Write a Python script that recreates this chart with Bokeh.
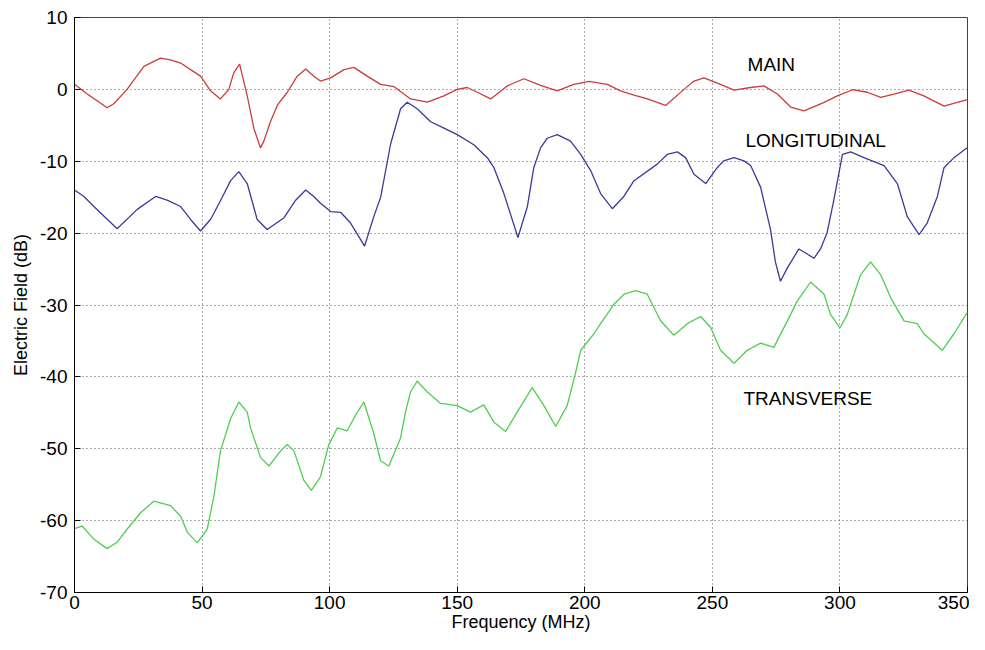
from bokeh.plotting import figure
from bokeh.models import FixedTicker, Range1d, PrintfTickFormatter
from bokeh.core.properties import value
from bokeh.embed import file_html
from bokeh.resources import INLINE

# ---- data ----
main_x = [0, 5, 12.8, 15.4, 20.6, 27.2, 33.7, 37.6, 41.6, 45.5, 49.4, 53.3, 57.2, 60.5, 62.4, 64.7,
          67.7, 70.3, 71.6, 72.9, 74.2, 76.8, 79.5, 83.4, 87.3, 90.6, 93.8, 96.4, 100.4, 105.6,
          109.5, 114.7, 120, 125.2, 131.7, 138.3, 144.8, 150, 153.9, 157.9, 163.1, 169.6, 176.1,
          182.7, 189.2, 195.7, 201.7, 208.8, 214, 219.3, 224.5, 231.7, 238.9, 242.8, 246.7, 253.2,
          258.5, 265, 270.2, 275.5, 280.7, 285.9, 293.8, 299, 305, 310.7, 316, 321.2, 327, 332.9,
          340.8, 346, 350]
main_y = [0.7, -0.65, -2.56, -2.0, 0.0, 3.2, 4.34, 4.1, 3.66, 2.75, 1.84, -0.2, -1.33, 0.0, 2.3, 3.52,
          -0.9, -5.4, -6.8, -8.14, -7.2, -4.5, -2.2, -0.4, 1.84, 2.84, 1.84, 1.16, 1.6, 2.75,
          3.06, 1.84, 0.7, 0.39, -1.33, -1.78, -0.9, 0.0, 0.26, -0.4, -1.33, 0.48, 1.48,
          0.57, -0.2, 0.7, 1.12, 0.7, -0.2, -0.8, -1.33, -2.24, 0.0, 1.16, 1.6, 0.7,
          -0.1, 0.26, 0.48, -0.65, -2.46, -3.0, -1.8, -0.9, -0.05, -0.4, -1.1, -0.65, -0.1, -0.9,
          -2.33, -1.8, -1.43]

long_x = [0, 3.7, 7.6, 16.7, 24.6, 31.8, 36.3, 41.6, 45.5, 49.4, 53.5, 57.2, 61.2, 64.4, 67.7, 71.6,
          75.5, 82, 86.5, 90.6, 93.8, 96.4, 100.4, 104.3, 108.2, 113.7, 117.3, 120, 123.9, 127.8,
          130.4, 134.3, 139.6, 144.8, 150, 156.5, 161.8, 164.4, 168.3, 173.8, 177.5, 180, 182.7,
          185.3, 189.2, 194.4, 198.4, 202.3, 206.2, 210.8, 215.3, 219.3, 228.4, 232.3, 236.3,
          239.5, 242.8, 247.4, 251.9, 254.4, 258.5, 262.4, 265, 268.9, 272.8, 274.7, 276.7, 279.3,
          283.9, 287.2, 289.8, 292.4, 295, 297.6, 301, 304.2, 309.4, 317.3, 322.5, 326.4, 331,
          334.2, 338.2, 340.8, 344.7, 350]
long_y = [-14.0, -14.9, -16.3, -19.4, -16.7, -14.9, -15.4, -16.3, -18.1, -19.7, -18.0, -15.5, -12.7,
          -11.44, -13.1, -18.1, -19.5, -17.9, -15.5, -14.0, -14.9, -15.85, -17.0, -17.1, -18.6,
          -21.8, -17.7, -15.0, -7.6, -2.7, -1.78, -2.7, -4.5, -5.4, -6.3, -7.7, -9.5, -10.9,
          -14.5, -20.6, -16.3, -10.9, -8.1, -6.8, -6.3, -7.2, -9.05, -11.3, -14.5, -16.6, -14.9,
          -12.7, -10.4, -9.05, -8.7, -9.5, -11.8, -13.1, -10.9, -9.95, -9.5, -9.95, -10.6, -13.6,
          -19.5, -24.0, -26.7, -24.9, -22.2, -22.9, -23.5, -22.2, -19.9, -15.4, -9.05, -8.7, -9.5,
          -10.6, -13.1, -17.7, -20.2, -18.6, -14.9, -10.9, -9.5, -8.1]

trans_x = [0, 3, 7.6, 12.8, 16.7, 20.6, 25.9, 31.1, 37.6, 41.6, 44.2, 48.1, 52, 54.6, 57.2, 61.2,
           64.4, 67.7, 69, 72.9, 76.2, 80.8, 83.4, 86, 89.9, 92.8, 96.4, 99.7, 103, 106.9, 110.2,
           113.4, 117, 120, 123.2, 127.8, 129.7, 131.7, 134.3, 138.3, 143.5, 150, 155.2, 160.4,
           164.4, 169, 173.5, 179.4, 184, 188.6, 193.1, 196.4, 198.4, 203.6, 206.2, 211.4, 215.4,
           219.9, 224.5, 229.7, 234.9, 240.2, 245.4, 249.3, 253.2, 258.5, 263.7, 268.9, 274.1,
           280.7, 283.2, 288.5, 293.8, 296.3, 300, 302.9, 305.5, 308.1, 312, 316, 319.9, 325.1,
           330.3, 332.9, 340.1, 344.7, 350]
trans_y = [-61.1, -60.75, -62.6, -63.9, -63.0, -61.2, -58.9, -57.3, -57.9, -59.4, -61.6, -63.1, -61.2,
           -56.7, -50.3, -45.8, -43.5, -44.9, -47.1, -51.2, -52.4, -50.3, -49.4, -50.3, -54.4,
           -55.8, -53.9, -49.4, -47.1, -47.5, -45.3, -43.5, -47.5, -51.7, -52.4, -48.5, -44.9,
           -42.1, -40.6, -42.1, -43.7, -44.0, -44.9, -43.9, -46.3, -47.6, -44.9, -41.5, -44.0,
           -46.9, -44.0, -39.4, -36.3, -34.0, -32.6, -29.9, -28.5, -28.0, -28.5, -32.2, -34.2,
           -32.6, -31.6, -33.1, -36.3, -38.1, -36.3, -35.3, -35.9, -31.3, -29.5, -26.8, -28.5,
           -31.3, -33.2, -31.3, -28.5, -25.8, -24.0, -25.8, -29.0, -32.2, -32.6, -34.0, -36.3,
           -34.0, -31.0]

labels = ["MAIN", "LONGITUDINAL", "TRANSVERSE"]
label_x = [263.8, 263.0, 262.2]
label_y = [3.4, -7.05, -43.0]

x_ticks = [0, 50, 100, 150, 200, 250, 300, 350]
y_ticks = [10, 0, -10, -20, -30, -40, -50, -60, -70]

FONT = "Liberation Sans"

p = figure(width=969, height=634, output_backend="svg", toolbar_location=None,
           x_range=Range1d(0, 350), y_range=Range1d(-70, 10),
           x_axis_label="Frequency (MHz)", y_axis_label="Electric Field (dB)",
           min_border_left=74, min_border_right=2, min_border_top=17, min_border_bottom=0)
p.background_fill_color = "white"
p.border_fill_color = "white"
p.outline_line_color = "#444444"
p.outline_line_width = 1

for ax in (p.xaxis[0], p.yaxis[0]):
    ax.axis_label_text_font = FONT
    ax.axis_label_text_font_size = "18px"
    ax.axis_label_text_font_style = "normal"
    ax.axis_label_text_color = "black"
    ax.major_label_text_font = FONT
    ax.major_label_text_font_size = "19px"
    ax.major_label_text_color = "black"
    ax.major_tick_in = 6
    ax.major_tick_out = 0
    ax.minor_tick_line_color = None
    ax.axis_line_color = "black"
    ax.major_tick_line_color = "black"
    ax.formatter = PrintfTickFormatter(format="%d")

p.xaxis.ticker = FixedTicker(ticks=x_ticks)
p.yaxis.ticker = FixedTicker(ticks=y_ticks)
p.xaxis.major_label_standoff = 3
p.xaxis.axis_label_standoff = 0
p.yaxis.major_label_standoff = 7
p.yaxis.axis_label_standoff = 6

p.xgrid.ticker = FixedTicker(ticks=x_ticks)
p.ygrid.ticker = FixedTicker(ticks=y_ticks)
for g in (p.xgrid[0], p.ygrid[0]):
    g.grid_line_color = "#333333"
    g.grid_line_alpha = 0.8
    g.grid_line_dash = "1 3"
    g.grid_line_width = 1

p.line(main_x, main_y, line_color="#cc3c3c", line_width=1.3)
p.line(long_x, long_y, line_color="#3a3a9c", line_width=1.3)
p.line(trans_x, trans_y, line_color="#4fcf4f", line_width=1.3)

p.text(x=label_x, y=label_y, text=labels, text_font=value(FONT), text_font_size="19px",
       text_color="black", text_align="left", text_baseline="middle")

open("out.html", "w").write(file_html(p, INLINE))
